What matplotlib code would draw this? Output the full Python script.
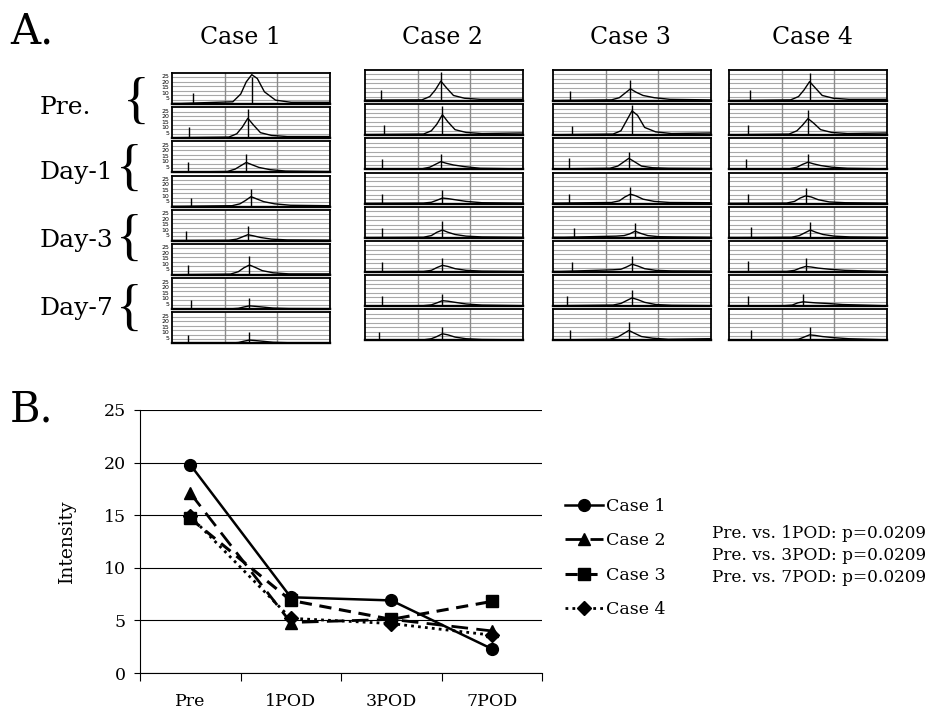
import matplotlib
matplotlib.use("Agg")
import numpy as np
import matplotlib.pyplot as plt
from matplotlib.lines import Line2D

plt.rcParams["font.family"] = "DejaVu Serif"

W, H = 933, 711

# ---------------- A. small spectra ----------------
cases = ["Case 1", "Case 2", "Case 3", "Case 4"]
row_labels = ["Pre.", "Day-1", "Day-3", "Day-7"]

# offsets (fraction of window) from the peak centre where the curve heights were read
peak_offsets = [-0.45, -0.12, -0.07, -0.035, 0.0, 0.035, 0.08, 0.15, 0.25, 0.5]

spike_x = [
    [0.13, 0.11, 0.10, 0.12, 0.09, 0.10, 0.12, 0.10],
    [0.10, 0.12, 0.11, 0.11, 0.11, 0.11, 0.11, 0.09],
    [0.11, 0.12, 0.10, 0.10, 0.13, 0.12, 0.09, 0.11],
    [0.13, 0.12, 0.11, 0.12, 0.14, 0.12, 0.12, 0.14],
]
spike_h = [
    [10, 10, 9, 8, 8.5, 9, 8, 8],
    [10, 9, 9, 9, 9, 9, 9, 8],
    [9, 8.5, 10, 9, 9, 9, 9.5, 9],
    [10, 9.5, 9, 9, 10, 10, 9, 9],
]
peak_x = [
    [0.505, 0.48, 0.47, 0.50, 0.48, 0.49, 0.49, 0.49],
    [0.48, 0.49, 0.48, 0.49, 0.49, 0.49, 0.49, 0.49],
    [0.49, 0.50, 0.48, 0.49, 0.52, 0.50, 0.50, 0.48],
    [0.51, 0.50, 0.50, 0.485, 0.515, 0.485, 0.47, 0.51],
]
marker_h = [
    [24, 26, 16.5, 16, 13.5, 17, 10, 10],
    [26, 26, 14, 12, 15, 13, 11, 12],
    [19, 27, 16, 15, 13.5, 14.5, 15, 17],
    [25, 22.5, 13.5, 14.5, 14, 13, 11, 12],
]
curves = [
    [
        [0.5, 2, 9, 20, 26.5, 23, 11, 3.5, 1.5, 1.5],
        [0.5, 1, 4, 10, 18, 12, 5, 2.5, 1.5, 1.5],
        [0.3, 0.8, 3, 6, 9, 7, 4.5, 2.5, 1.2, 0.8],
        [0.3, 0.8, 2.5, 5.5, 9, 7, 4.5, 2.5, 1.2, 0.8],
        [0.3, 0.5, 1.5, 3.5, 5.5, 4.5, 3, 1.5, 0.8, 0.6],
        [0.3, 0.8, 3, 6.5, 9, 7, 4, 2, 1, 1],
        [0.3, 0.3, 0.8, 2, 3, 2.6, 2, 1, 0.6, 0.5],
        [0.3, 0.3, 0.8, 2, 3, 2.6, 2, 1, 0.6, 0.5],
    ],
    [
        [0.8, 1, 4, 10, 18, 12, 5, 2.5, 1.5, 1.5],
        [0.6, 1, 4, 10, 18.5, 12, 5, 2.5, 1.5, 2],
        [0.3, 0.5, 2, 4.5, 7, 5.5, 4, 2.5, 1, 0.5],
        [0.3, 0.5, 1.2, 3, 5, 4.5, 3.5, 2, 0.8, 0.5],
        [0.3, 0.5, 2, 5, 7, 5, 3, 1.5, 0.8, 0.5],
        [0.3, 0.5, 1.5, 4, 6, 5, 3, 1.5, 0.8, 0.5],
        [0.3, 0.5, 1.2, 3, 5, 4.5, 3.5, 2, 1, 0.5],
        [0.3, 0.5, 1.5, 3.5, 6, 5, 3, 1.5, 0.8, 0.5],
    ],
    [
        [0.5, 1, 3, 7, 11, 8, 5, 3, 1.5, 1],
        [0.5, 1, 4, 13, 22, 18, 7, 3, 1.5, 2],
        [0.5, 1, 3, 6.5, 10, 7, 3, 1.5, 1, 0.8],
        [0.5, 1, 2.5, 6, 8.5, 7, 4, 2, 1, 0.8],
        [0.5, 1.5, 2, 3.5, 6, 4, 2, 1, 0.8, 0.5],
        [0.5, 2, 2.5, 4.5, 7, 5.5, 3, 1.5, 1, 0.8],
        [0.5, 1, 2.5, 5, 7.5, 6, 3.5, 1.5, 0.8, 0.5],
        [0.5, 1, 3, 6, 9, 6.5, 3.5, 2, 1, 1.5],
    ],
    [
        [0.5, 1, 4, 10, 17.5, 12, 5, 2.5, 1.5, 1.5],
        [0.5, 1, 4, 9, 15, 11, 5, 2.5, 1.5, 2],
        [0.3, 0.5, 2, 4.5, 6.5, 5, 3.5, 2, 1, 0.5],
        [0.3, 0.5, 2, 5, 7, 6, 3.5, 1.5, 0.8, 0.5],
        [0.3, 0.5, 2, 4.5, 7, 5, 3, 1.5, 0.8, 0.5],
        [0.3, 0.5, 1.5, 3.5, 5, 4.5, 3.5, 2.5, 1.5, 0.5],
        [0.3, 0.5, 1, 3, 4, 3.5, 3, 2.5, 1.5, 0.5],
        [0.3, 0.5, 1, 3, 5, 4.5, 3.5, 2.5, 1.5, 0.5],
    ],
]
spec_ticks = [5, 10, 15, 20, 25]

# ---------------- B. intensity over time ----------------
timepoints = ["Pre", "1POD", "3POD", "7POD"]
case1 = [19.8, 7.2, 6.9, 2.3]
case2 = [17.1, 4.8, 5.1, 4.0]
case3 = [14.7, 6.9, 5.1, 6.8]
case4 = [14.9, 5.2, 4.7, 3.6]
p_labels = ["Pre. vs. 1POD", "Pre. vs. 3POD", "Pre. vs. 7POD"]
p_values = [0.0209, 0.0209, 0.0209]


def px(x0, y0, w, h):
    return [x0 / W, 1 - (y0 + h) / H, w / W, h / H]


fig = plt.figure(figsize=(W / 100, H / 100), dpi=100)

col_left = [172, 365, 553, 729]
col_top = [73, 70, 70, 70]
title_x = [241, 442, 630, 812]
panel_w, panel_h, pitch = 158, 31, 34.2

for c in range(4):
    fig.text(title_x[c] / W, 1 - 38 / H, cases[c], ha="center", va="center", fontsize=17)
    for r in range(8):
        ax = fig.add_axes(px(col_left[c], col_top[c] + r * pitch, panel_w, panel_h))
        ax.set_xlim(0, 1)
        ax.set_ylim(0, 28)
        for g in range(4, 28, 4):
            ax.axhline(g, color="#a8a8a8", lw=0.8, zorder=1)
        for g in (1 / 3, 2 / 3):
            ax.axvline(g, color="#8a8a8a", lw=1.0, zorder=1)
        xs = np.clip(peak_x[c][r] + np.array(peak_offsets), 0, 1)
        ys = curves[c][r]
        xs = np.concatenate([[0], xs, [1]])
        ys = np.concatenate([[ys[0]], ys, [ys[-1]]])
        ax.plot(xs, ys, color="black", lw=1.0, zorder=3)
        ax.vlines(spike_x[c][r], 0, spike_h[c][r], color="black", lw=1.0, zorder=3)
        ax.vlines(peak_x[c][r], 0, marker_h[c][r], color="black", lw=1.0, zorder=3)
        ax.set_xticks([])
        if c == 0:
            ax.set_yticks(spec_ticks)
            ax.set_yticklabels([str(t) for t in spec_ticks], family="DejaVu Sans",
                               fontsize=4.5)
            ax.tick_params(axis="y", length=0, pad=2)
        else:
            ax.set_yticks([])
        for s in ax.spines.values():
            s.set_linewidth(1.3)
        ax.spines["bottom"].set_linewidth(1.7)

fig.text(10 / W, 1 - 32 / H, "A.", fontsize=30, va="center", ha="left")

label_y = [108, 172, 240, 308]
brace_x = [136, 129, 129, 129]
brace_y = [104, 171, 241, 311]
for i, lab in enumerate(row_labels):
    fig.text(40 / W, 1 - label_y[i] / H, lab, fontsize=18, ha="left", va="center")
    fig.text(brace_x[i] / W, 1 - brace_y[i] / H, "{", family="Liberation Serif",
             fontsize=40, ha="center", va="center")

# ---------------- B ----------------
fig.text(10 / W, 1 - 410 / H, "B.", fontsize=30, va="center", ha="left")

ax = fig.add_axes(px(140, 410, 402, 263))
xpos = np.arange(len(timepoints)) + 0.5
series = [case1, case2, case3, case4]
styles = [
    dict(marker="o", ls="-", lw=1.8),
    dict(marker="^", ls=(0, (6, 3)), lw=2.0),
    dict(marker="s", ls=(0, (4, 2.5)), lw=2.2),
    dict(marker="D", ls=(0, (1, 1.5)), lw=2.0),
]
handles = []
for vals, st, name in zip(series, styles, cases):
    ms = 8.5 if st["marker"] != "D" else 7
    ax.plot(xpos, vals, color="black", marker=st["marker"], ls=st["ls"],
            lw=st["lw"], ms=ms, zorder=3)
    handles.append(Line2D([], [], color="black", marker=st["marker"], ls=st["ls"],
                          lw=st["lw"], ms=ms))

ax.set_xlim(0, 4)
ax.set_ylim(0, 25)
ax.set_yticks(range(0, 26, 5))
ax.set_xticks(range(0, 5))
ax.set_xticklabels([])
ax.yaxis.grid(True, color="black", lw=0.8)
ax.set_axisbelow(True)
for s in ("top", "right"):
    ax.spines[s].set_visible(False)
ax.spines["left"].set_linewidth(0.8)
ax.spines["bottom"].set_linewidth(0.8)
ax.tick_params(axis="y", length=4, width=0.8, labelsize=12.5, pad=6)
ax.tick_params(axis="x", length=6, width=0.8)
for xi, lab in zip(xpos, timepoints):
    ax.text(xi, -0.11, lab, transform=ax.get_xaxis_transform(), ha="center",
            va="center", fontsize=12.5)
ax.set_ylabel("Intensity", fontsize=13.5, labelpad=20)

fig.legend(handles, cases, loc="upper left", bbox_to_anchor=(565 / W, 1 - 498 / H),
           frameon=False, handlelength=2.2, handletextpad=0.15, labelspacing=1.0,
           fontsize=12.5, borderaxespad=0, borderpad=0)

for i, (lab, p) in enumerate(zip(p_labels, p_values)):
    fig.text(712 / W, 1 - (533 + 22.5 * i) / H, f"{lab}: p={p:.4f}", fontsize=12.2,
             ha="left", va="center")

fig.savefig("out.png", dpi=100)
